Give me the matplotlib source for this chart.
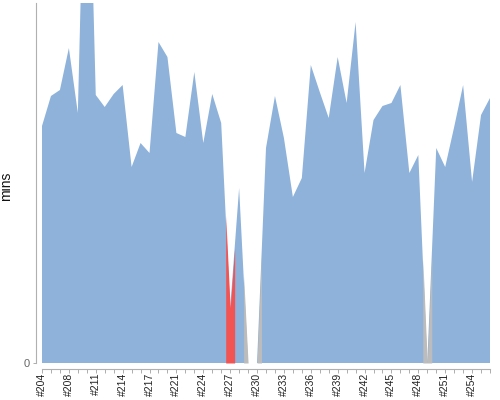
import matplotlib
matplotlib.use('Agg')
import matplotlib.pyplot as plt
import numpy as np

plt.rcParams['font.family'] = ['Liberation Sans', 'DejaVu Sans']

# build numbers (a few numbers are missing in the history)
builds = [204, 205, 207, 208, 209, 210, 211, 212, 213, 214, 215, 216, 217,
          218, 220, 221, 222, 223, 224, 225, 226, 227, 228, 229, 230, 231,
          232, 233, 234, 235, 236, 237, 238, 239, 240, 241, 242, 243, 244,
          245, 246, 247, 248, 249, 250, 251, 252, 253, 254, 255, 256]

# build duration in minutes
durations = [23.7, 26.7, 27.3, 31.5, 25.0, 61.3, 26.8, 25.6, 26.9, 27.8,
             19.6, 22.0, 21.0, 32.1, 30.6, 23.0, 22.6, 29.1, 22.0, 26.9,
             24.0, 5.5, 17.5, 0.0, 0.0, 21.5, 26.7, 22.5, 16.6, 18.5,
             29.8, 27.1, 24.5, 30.6, 26.0, 34.1, 19.0, 24.3, 25.7, 26.0,
             27.8, 19.0, 20.8, 0.0, 21.5, 19.6, 23.6, 27.8, 18.1, 24.8,
             26.5]

failed_builds = [227]
aborted_builds = [229, 230, 249]

blue = '#8eb2d9'
red = '#f25454'
grey = '#bcbcbc'

fig = plt.figure(figsize=(5, 4), dpi=100)
ax = fig.add_axes([42 / 500, 37 / 400, 448 / 500, 360 / 400])

x = np.arange(len(builds))
y = np.array(durations)
n = len(builds)

# whole history in blue first
ax.fill_between(x, 0, y, color=blue, lw=0)

# then the failed / aborted builds, each coloured over its own category band
for b in failed_builds + aborted_builds:
    i = builds.index(b)
    col = red if b in failed_builds else grey
    xs, ys = [], []
    if i > 0:
        xs.append(i - 0.5)
        ys.append((y[i - 1] + y[i]) / 2)
    xs.append(i)
    ys.append(y[i])
    if i < n - 1:
        xs.append(i + 0.5)
        ys.append((y[i] + y[i + 1]) / 2)
    ax.fill_between(xs, 0, ys, color=col, lw=0)

ax.set_xlim(0, n - 1)
ax.set_ylim(0, 36)

for side in ['top', 'right']:
    ax.spines[side].set_visible(False)
for side in ['left', 'bottom']:
    ax.spines[side].set_position(('outward', 4))
    ax.spines[side].set_color('#b0b0b0')
    ax.spines[side].set_linewidth(0.8)

ax.tick_params(axis='x', length=3, width=0.6, color='#a0a0a0', pad=0)
ax.tick_params(axis='y', length=2, width=0.6, color='#a0a0a0', pad=3)

ax.set_yticks([0])
ax.set_yticklabels(['0'], fontsize=8, color='#666666')

ax.set_xticks(x)
ax.set_xticklabels(['#%d' % b if k % 3 == 0 else '' for k, b in enumerate(builds)],
                   fontsize=7.5, color='#222222', rotation=90,
                   rotation_mode='anchor', ha='right', va='center')

ax.set_ylabel('mins', fontsize=10, color='#111111')
ax.yaxis.set_label_coords(-0.065, 0.49)

fig.savefig('out.png', dpi=100)
